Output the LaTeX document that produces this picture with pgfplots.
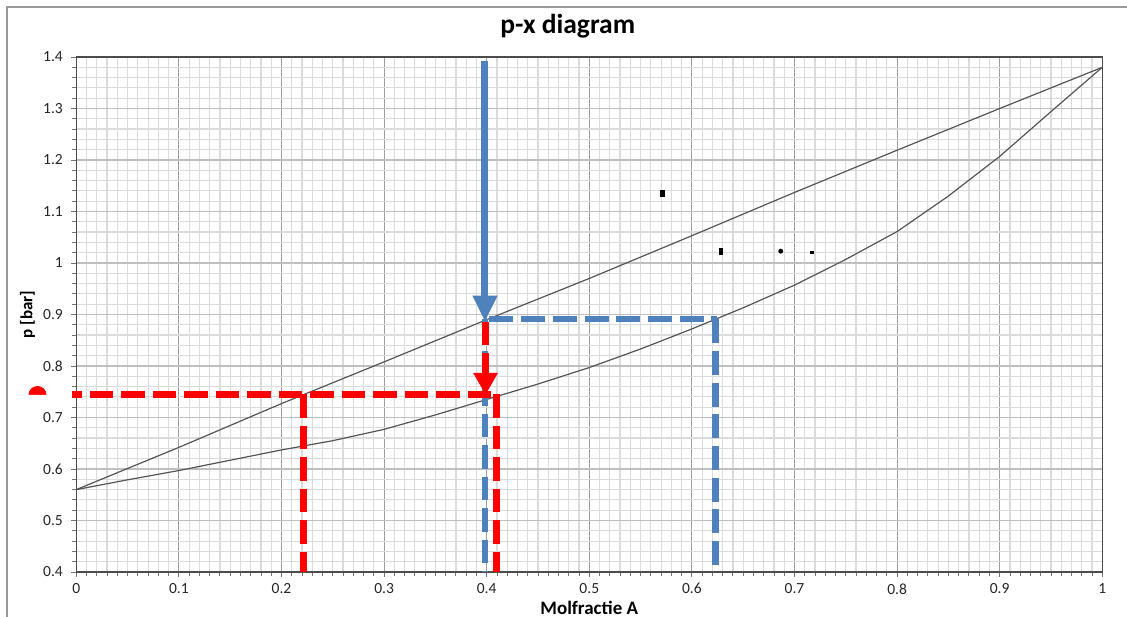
\documentclass[border=0pt]{standalone}
\usepackage{pgfplots}
\pgfplotsset{compat=1.18}
\usepackage{fontspec}
\setmainfont{Carlito}
\usetikzlibrary{arrows.meta}
\usetikzlibrary{plotmarks}
\definecolor{xlblue}{RGB}{79,129,189}
\definecolor{xlred}{RGB}{255,0,0}
\definecolor{curvegray}{RGB}{85,85,85}
\pgfplotstableread{
x y
0    0.560
0.1  0.642
0.2  0.727
0.3  0.808
0.4  0.890
0.5  0.970
0.6  1.053
0.7  1.137
0.8  1.219
0.9  1.300
1.0  1.380
}\bubbledata
\pgfplotstableread{
x y
0    0.560
0.05 0.579
0.1  0.597
0.15 0.617
0.2  0.637
0.25 0.655
0.3  0.677
0.35 0.705
0.4  0.735
0.45 0.765
0.5  0.797
0.55 0.833
0.6  0.872
0.65 0.913
0.7  0.957
0.75 1.007
0.8  1.061
0.85 1.130
0.9  1.207
0.95 1.294
1.0  1.380
}\dewdata
\begin{document}
\begin{tikzpicture}
\clip (0,0) rectangle (1127pt,616pt);
\path[use as bounding box] (0,0) rectangle (1127pt,616pt);
\draw[black!40, line width=1.3pt] (7pt,-5pt) -- (7pt,609pt) -- (1140pt,609pt);
\begin{axis}[
  at={(76.3pt,44pt)}, anchor=south west,
  scale only axis, width=1026pt, height=515pt,
  xmin=0, xmax=1, ymin=0.4, ymax=1.4,
  clip=false,
  xtick distance=0.1, ytick distance=0.1,
  minor x tick num=9, minor y tick num=4,
  xtick pos=bottom, ytick pos=left,
  tick align=outside,
  major tick length=5pt, minor tick length=4pt,
  every tick/.style={black!55, line width=0.9pt},
  grid=both,
  major x grid style={black!38, line width=1pt},
  major y grid style={black!25, line width=1.5pt},
  minor grid style={black!14, line width=1.2pt},
  axis line style={black!70, line width=1.2pt},
  /pgf/number format/assume math mode=true,
  tick label style={font=\fontsize{15.5}{18}\selectfont, text=black!85},
  xticklabel style={yshift=-3pt},
  yticklabel style={xshift=-5pt},
  title={p-x diagram},
  title style={at={(0.479,1)}, anchor=base, yshift=17.5pt, font=\bfseries\fontsize{27.5}{32}\selectfont},
  xlabel={Molfractie A},
  xlabel style={font=\bfseries\fontsize{19}{21}\selectfont, at={(0.5,0)}, anchor=base, inner sep=0pt, yshift=-42pt},
  ylabel={p [bar]},
  ylabel style={font=\bfseries\fontsize{17}{20}\selectfont, at={(-0.0476,0.5)}, anchor=center},
]
\addplot[curvegray, line width=1.2pt] table {\bubbledata};
\addplot[curvegray, line width=1.2pt] table {\dewdata};
% blue dashed vertical under red
\addplot[xlblue, line width=6.5pt, dash pattern=on 23.5pt off 8pt] coordinates {(0.3984,0.891) (0.3984,0.4)};
% red verticals
\addplot[xlred, line width=7pt, dash pattern=on 23.5pt off 8pt] coordinates {(0.2216,0.7453) (0.2216,0.4)};
\addplot[xlred, line width=7pt, dash pattern=on 23.5pt off 8pt] coordinates {(0.4094,0.7453) (0.4094,0.4)};
% red horizontal
\addplot[xlred, line width=7pt, dash pattern=on 23.5pt off 8pt, dash phase=13.5pt] coordinates {(-0.0045,0.7453) (0.412,0.7453)};
% red arrow
\addplot[xlred, line width=7pt, dash pattern=on 23.5pt off 8pt, -{Triangle[width=23pt,length=22pt]}] coordinates {(0.3989,0.886) (0.3989,0.7437)};
% blue arrow
\addplot[xlblue, line width=7pt, -{Triangle[width=23pt,length=26pt]}] coordinates {(0.3983,1.392) (0.3983,0.886)};
% blue horizontal and vertical dashed
\addplot[xlblue, line width=6.5pt, dash pattern=on 24pt off 7.7pt] coordinates {(0.4027,0.891) (0.6243,0.891)};
\addplot[xlblue, line width=6.5pt, dash pattern=on 24pt off 7.7pt] coordinates {(0.623,0.891) (0.623,0.4)};
% red half circle at left
\addplot[only marks, mark=halfcircle*, mark size=9pt, mark options={draw opacity=0, fill=xlred}] coordinates {(-0.0378,0.7437)};
% small black marks
\addplot[only marks, mark=square*, black, mark size=1pt, mark options={xscale=1.6, yscale=3.2}] coordinates {(0.571,1.135)};
\addplot[only marks, mark=square*, black, mark size=1pt, mark options={xscale=1.6, yscale=2.6}] coordinates {(0.628,1.023)};
\addplot[only marks, mark=*, black, mark size=2.2pt] coordinates {(0.6866,1.023)};
\addplot[only marks, mark=square*, black, mark size=1pt, mark options={xscale=1.8, yscale=0.9}] coordinates {(0.7168,1.021)};
\end{axis}
\end{tikzpicture}
\end{document}
